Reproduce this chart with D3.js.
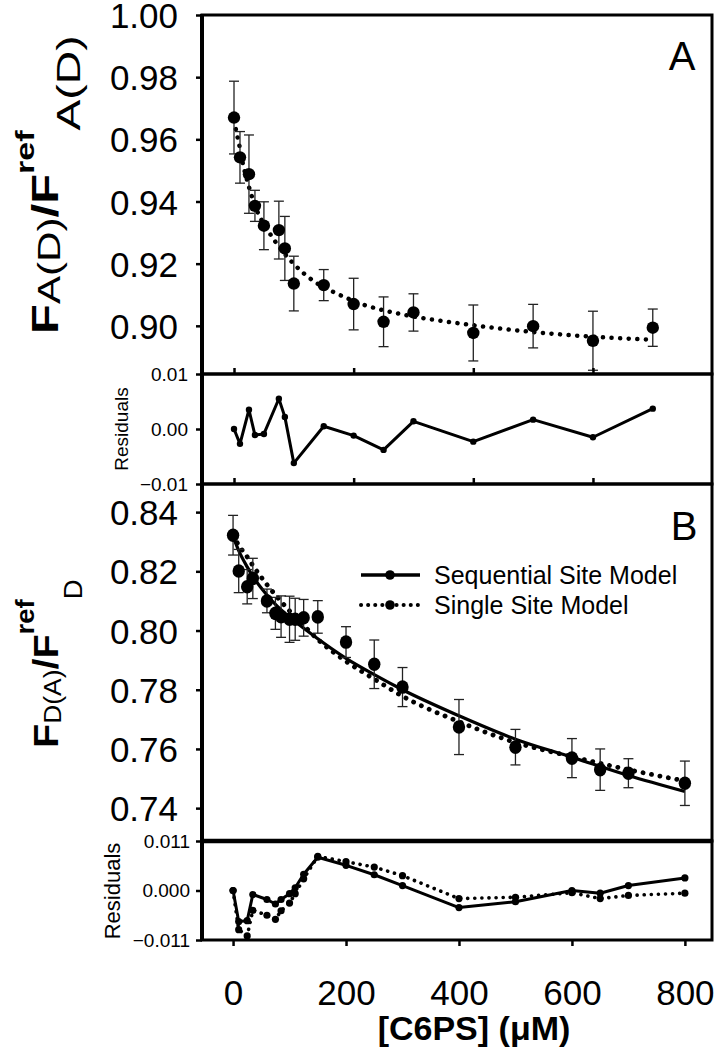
<!DOCTYPE html>
<html><head><meta charset="utf-8">
<script src="https://cdn.jsdelivr.net/npm/d3@7"></script>
<style>
body{margin:0;background:#fff}
svg{display:block}
text{font-family:"Liberation Sans",Arial,Helvetica,sans-serif;fill:#000}
</style>
</head><body>
<svg id="c" width="716" height="1050"></svg>
<script>
// ---------- Panel A data ----------
const concA  = [0,10,25,35,50,75,85,100,150,200,250,300,400,500,600,700];
const valA   = [0.967,0.9542,0.9488,0.9386,0.9322,0.9308,0.9249,0.9136,0.9131,0.907,0.9013,0.9043,0.8977,0.8999,0.8952,0.8994];
const errA   = [0.0117,0.0083,0.0126,0.005,0.0077,0.0093,0.0103,0.0088,0.005,0.0083,0.008,0.006,0.009,0.007,0.0095,0.006];
const residA = [0.0000,-0.0027,0.0035,-0.0011,-0.0009,0.0055,0.0022,-0.0062,0.0005,-0.0012,-0.0038,0.0014,-0.0023,0.0017,-0.0015,0.0037];
const fitAConc = [0,5,10,15,22,30,42,53,64,75,96,110,122,137,163,190,215,250,300,350,400,450,500,600,700];
const fitAVal  = [0.966,0.9615,0.957,0.952,0.9468,0.9415,0.9355,0.9318,0.9285,0.9255,0.9207,0.918,0.916,0.9139,0.9112,0.9088,0.9069,0.905,0.903,0.9015,0.9002,0.899,0.898,0.8965,0.8955];

// ---------- Panel B data ----------
const concB = [0,10,25,35,60,75,85,100,110,125,150,200,250,300,400,500,600,650,700,800];
const valB  = [0.8322,0.8201,0.8148,0.8176,0.8100,0.8058,0.8047,0.8038,0.8038,0.8043,0.8046,0.7961,0.7886,0.7809,0.7674,0.7606,0.7569,0.7530,0.7518,0.7484];
const errB  = [0.0067,0.0073,0.0058,0.0068,0.004,0.0054,0.007,0.0078,0.0071,0.0062,0.0055,0.0052,0.0082,0.0066,0.0093,0.006,0.0066,0.007,0.0049,0.0075];
const residSeq    = [0,-0.0069,-0.0067,-0.0009,-0.002,-0.003,-0.002,-0.0007,0.0006,0.0036,0.0074,0.0056,0.0035,0.0011,-0.0038,-0.0025,0.0000,-0.0006,0.0011,0.0028];
const residSingle = [0,-0.0087,-0.0101,-0.0044,-0.0055,-0.0064,-0.0045,-0.0028,-0.0007,0.0026,0.0076,0.0064,0.0052,0.0033,-0.0018,-0.0015,-0.0005,-0.0018,-0.0011,-0.0006];
const fitBConc   = [0,10,25,35,60,75,100,125,150,200,250,300,400,500,600,700,800];
const fitSeqVal  = [0.8318,0.8270,0.8215,0.8183,0.8120,0.8088,0.8045,0.8008,0.7972,0.7906,0.7851,0.7800,0.7712,0.7633,0.7572,0.7510,0.7456];
const fitSingVal = [0.8322,0.8288,0.8249,0.8220,0.8155,0.8120,0.8066,0.8017,0.7970,0.7896,0.7836,0.7778,0.7692,0.7622,0.7574,0.7530,0.7492];

// ---------- tick labels ----------
const ticksA  = [0.90,0.92,0.94,0.96,0.98,1.00];
const ticksRA = [-0.01,0.00,0.01];
const ticksB  = [0.74,0.76,0.78,0.80,0.82,0.84];
const ticksRB = [-0.011,0.000,0.011];
const ticksXA = [0,200,400,600];
const ticksXB = [0,200,400,600,800];
const legendLabels = ["Sequential Site Model","Single Site Model"];

// ---------- layout ----------
const svg = d3.select("#c");
const L = 202, R = 712;
const xA = d3.scaleLinear().domain([-53.5, 799]).range([L, R]);
const xB = d3.scaleLinear().domain([-55, 848]).range([L, R]);
const yA  = d3.scaleLinear().domain([0.8845, 1.00]).range([374, 15]);
const yRA = d3.scaleLinear().domain([-0.01, 0.01]).range([484, 374]);
const yB  = d3.scaleLinear().domain([0.7289, 0.8495]).range([841, 484]);
const yRB = d3.scaleLinear().domain([-0.011, 0.011]).range([940, 841]);

function frame(y0, y1, sw){
  svg.append("rect").attr("x",L).attr("y",y0).attr("width",R-L).attr("height",y1-y0)
    .attr("fill","none").attr("stroke","#000").attr("stroke-width",sw);
}

function yAxis(scale, vals, fmt, size, pad, dy){
  const g = svg.append("g").attr("transform",`translate(${L},0)`)
    .call(d3.axisLeft(scale).tickValues(vals).tickFormat(d3.format(fmt)).tickSize(6).tickPadding(pad));
  g.select(".domain").remove();
  g.selectAll(".tick line").attr("stroke","#000").attr("stroke-width",2.5);
  g.selectAll(".tick text").style("font-size",size+"px").attr("fill","#000").attr("dy",dy);
  return g;
}
function xTicksInward(scale, y){
  const g = svg.append("g").attr("transform",`translate(0,${y})`)
    .call(d3.axisTop(scale).tickValues(ticksXA).tickFormat("").tickSize(6));
  g.select(".domain").remove();
  g.selectAll(".tick line").attr("stroke","#000").attr("stroke-width",2.5);
}

function errorBars(g, xs, ys, es, x, y, cap){
  xs.forEach((c,i)=>{
    const cx = x(c), t = y(ys[i]+es[i]), b = y(ys[i]-es[i]);
    g.append("line").attr("x1",cx).attr("x2",cx).attr("y1",t).attr("y2",b);
    g.append("line").attr("x1",cx-cap).attr("x2",cx+cap).attr("y1",t).attr("y2",t);
    g.append("line").attr("x1",cx-cap).attr("x2",cx+cap).attr("y1",b).attr("y2",b);
  });
  g.attr("stroke","#222").attr("stroke-width",1.3);
}

const dotted = sel => sel.attr("fill","none").attr("stroke","#000")
   .attr("stroke-linecap","round").attr("stroke-dasharray","0.1 8.5");

// ---------- Panel A ----------
const lineFitA = d3.line().x((d,i)=>xA(fitAConc[i])).y(d=>yA(d)).curve(d3.curveMonotoneX);
svg.append("path").datum(fitAVal).attr("d",lineFitA).call(dotted).attr("stroke-width",4.5);
errorBars(svg.append("g"), concA, valA, errA, xA, yA, 5);
svg.append("g").selectAll("circle").data(valA).join("circle")
  .attr("cx",(d,i)=>xA(concA[i])).attr("cy",d=>yA(d)).attr("r",6.2).attr("fill","#000");

// residual A
const lineRA = d3.line().x((d,i)=>xA(concA[i])).y(d=>yRA(d));
svg.append("path").datum(residA).attr("d",lineRA).attr("fill","none").attr("stroke","#000")
  .attr("stroke-width",3).attr("stroke-linejoin","round");
svg.append("g").selectAll("circle").data(residA).join("circle")
  .attr("cx",(d,i)=>xA(concA[i])).attr("cy",d=>yRA(d)).attr("r",3.2).attr("fill","#000");

// ---------- Panel B ----------
const lineFitB = vals => d3.line().x((d,i)=>xB(fitBConc[i])).y(d=>yB(d)).curve(d3.curveMonotoneX)(vals);
svg.append("path").attr("d",lineFitB(fitSingVal)).call(dotted).attr("stroke-width",4.8);
svg.append("path").attr("d",lineFitB(fitSeqVal)).attr("fill","none").attr("stroke","#000").attr("stroke-width",3.2);
errorBars(svg.append("g"), concB, valB, errB, xB, yB, 5);
svg.append("g").selectAll("ellipse").data(valB).join("ellipse")
  .attr("cx",(d,i)=>xB(concB[i])).attr("cy",d=>yB(d)).attr("rx",6.2).attr("ry",6.8).attr("fill","#000");

// residual B
const lineRB = d3.line().x((d,i)=>xB(concB[i])).y(d=>yRB(d));
svg.append("path").datum(residSingle).attr("d",lineRB).call(dotted).attr("stroke-width",3.6).attr("stroke-dasharray","0.1 7");
svg.append("g").selectAll("circle").data(residSingle).join("circle")
  .attr("cx",(d,i)=>xB(concB[i])).attr("cy",d=>yRB(d)).attr("r",3.6).attr("fill","#000");
svg.append("path").datum(residSeq).attr("d",lineRB).attr("fill","none").attr("stroke","#000")
  .attr("stroke-width",3).attr("stroke-linejoin","round");
svg.append("g").selectAll("circle").data(residSeq).join("circle")
  .attr("cx",(d,i)=>xB(concB[i])).attr("cy",d=>yRB(d)).attr("r",3.6).attr("fill","#000");

// legend
const lg = svg.append("g");
[0,1].forEach(i=>{
  const ly = 575 + i*30;
  const p = lg.append("line").attr("x1",361).attr("x2",420).attr("y1",ly).attr("y2",ly);
  if(i===0) p.attr("stroke","#000").attr("stroke-width",3.5);
  else p.call(dotted).attr("stroke-width",4).attr("stroke-dasharray","0.1 7");
  lg.append("circle").attr("cx",390).attr("cy",ly).attr("r",4.8).attr("fill","#000");
  lg.append("text").attr("x",434).attr("y",ly+8.5).style("font-size","25px").text(legendLabels[i]);
});

// ---------- frames & axes ----------
frame(15, 374, 3);
frame(374, 484, 3);
frame(484, 841, 3);
frame(841, 940, 3);
svg.append("line").attr("x1",L).attr("x2",R).attr("y1",841).attr("y2",841).attr("stroke","#000").attr("stroke-width",4.5);
svg.append("line").attr("x1",L).attr("x2",L).attr("y1",14).attr("y2",941).attr("stroke","#000").attr("stroke-width",4);

yAxis(yA, ticksA, ".2f", 35, 18, "0.36em");
yAxis(yRA, ticksRA, ".2f", 19, 8, "0.34em");
yAxis(yB, ticksB, ".2f", 35, 18, "0.36em");
yAxis(yRB, ticksRB, ".3f", 19, 6, "0.34em");
xTicksInward(xA, 374);
xTicksInward(xA, 484);

const gx = svg.append("g").attr("transform","translate(0,940)")
  .call(d3.axisBottom(xB).tickValues(ticksXB).tickFormat(d3.format("d")).tickSize(6).tickPadding(34));
gx.select(".domain").remove();
gx.selectAll(".tick line").attr("stroke","#000").attr("stroke-width",2.5);
gx.selectAll(".tick text").style("font-size","35px").attr("fill","#000");

svg.append("text").attr("x",474).attr("y",1040).attr("text-anchor","middle")
  .style("font-size","34px").style("font-weight","bold").text("[C6PS] (\u03BCM)");

// panel letters
svg.append("text").attr("x",682).attr("y",70).attr("text-anchor","middle").style("font-size","40px").text("A");
svg.append("text").attr("x",684).attr("y",540).attr("text-anchor","middle").style("font-size","40px").text("B");

// residual labels
svg.append("text").attr("transform","translate(128,429) rotate(-90)").attr("text-anchor","middle")
  .style("font-size","19px").text("Residuals");
svg.append("text").attr("transform","translate(120,891) rotate(-90)").attr("text-anchor","middle")
  .style("font-size","22px").text("Residuals");

// y titles
function yTitle(tx, ty, sx, parts){
  const t = svg.append("text").attr("transform",`translate(${tx},${ty}) rotate(-90) scale(${sx},1)`);
  parts.forEach(p=>{
    t.append("tspan").attr("dy",p.dy).style("font-size",p.fs+"px")
     .style("font-weight",p.b?"bold":"normal").text(p.t);
  });
}
yTitle(58, 334, 1.36, [
  {t:"F",fs:36,b:1,dy:0},{t:"A(D)",fs:31,b:0,dy:2},{t:"/F",fs:36,b:1,dy:-2},
  {t:"ref",fs:25,b:1,dy:-24},{t:"A(D)",fs:34,b:0,dy:46}]);
yTitle(58, 748, 1.1, [
  {t:"F",fs:36,b:1,dy:0},{t:"D(A)",fs:24,b:0,dy:3},{t:"/F",fs:36,b:1,dy:-3},
  {t:"ref",fs:25,b:1,dy:-24},{t:"D",fs:25,b:0,dy:48}]);
</script>
</body></html>
